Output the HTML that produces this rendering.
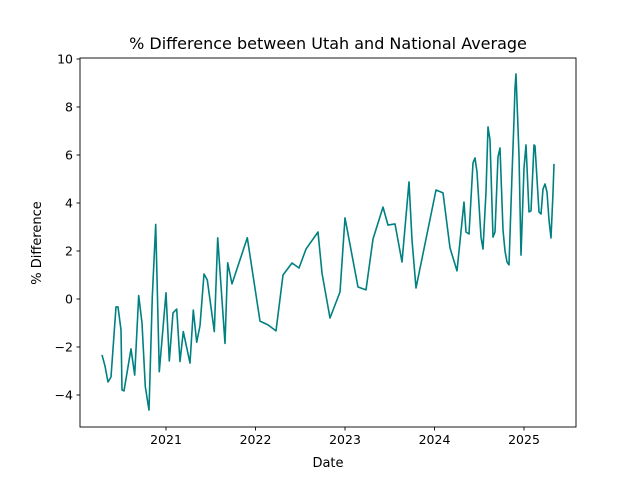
<!DOCTYPE html>
<html><head><meta charset="utf-8"><style>
body{margin:0;background:#fff;}
svg text{font-family:"DejaVu Sans","Liberation Sans",sans-serif;fill:#000;}
</style></head><body>
<svg id="chart" width="640" height="480" xmlns="http://www.w3.org/2000/svg">
<rect width="640" height="480" fill="#fff"/>
<text x="328" y="49" font-size="16" text-anchor="middle">% Difference between Utah and National Average</text>
<g id="axes"></g>
<text x="328" y="467" font-size="13" text-anchor="middle">Date</text>
<text x="41" y="243" font-size="13" text-anchor="middle" transform="rotate(-90 41 243)">% Difference</text>
</svg>
<script>
const dates=[2020.285,2020.318,2020.352,2020.385,2020.419,2020.441,2020.464,2020.497,2020.508,2020.531,2020.609,2020.65,2020.695,2020.732,2020.769,2020.81,2020.847,2020.885,2020.925,2021.0,2021.037,2021.078,2021.12,2021.156,2021.193,2021.268,2021.305,2021.343,2021.38,2021.425,2021.461,2021.54,2021.578,2021.659,2021.689,2021.737,2021.908,2022.05,2022.14,2022.229,2022.307,2022.408,2022.486,2022.564,2022.698,2022.743,2022.832,2022.944,2023.0,2023.145,2023.235,2023.313,2023.425,2023.48,2023.559,2023.637,2023.715,2023.749,2023.793,2024.017,2024.095,2024.173,2024.251,2024.33,2024.352,2024.385,2024.43,2024.453,2024.475,2024.52,2024.542,2024.575,2024.598,2024.62,2024.654,2024.676,2024.709,2024.732,2024.765,2024.788,2024.81,2024.832,2024.866,2024.888,2024.899,2024.911,2024.944,2024.966,2025.0,2025.022,2025.056,2025.078,2025.112,2025.123,2025.168,2025.19,2025.212,2025.235,2025.257,2025.279,2025.302,2025.324,2025.335];
const values=[-2.33,-2.79,-3.46,-3.25,-1.5,-0.33,-0.33,-1.29,-3.79,-3.83,-2.08,-3.17,0.14,-1.0,-3.65,-4.63,0.1,3.11,-3.03,0.26,-2.58,-0.58,-0.42,-2.61,-1.36,-2.67,-0.46,-1.8,-1.11,1.04,0.79,-1.36,2.55,-1.85,1.51,0.63,2.55,-0.92,-1.08,-1.33,1.0,1.5,1.29,2.08,2.79,1.08,-0.79,0.29,3.38,0.5,0.38,2.5,3.83,3.08,3.13,1.54,4.88,2.46,0.46,4.54,4.42,2.13,1.17,4.04,2.79,2.71,5.67,5.88,5.29,2.58,2.08,4.46,7.17,6.63,2.58,2.79,5.92,6.29,2.88,2.0,1.54,1.42,5.17,7.46,8.79,9.38,6.0,1.83,5.46,6.42,3.63,3.67,6.42,6.38,3.63,3.54,4.58,4.79,4.46,3.29,2.54,4.42,5.63];
const yTicks=[-4,-2,0,2,4,6,8,10];
const xTicks=[2021,2022,2023,2024,2025];
const NS="http://www.w3.org/2000/svg";
const L=80,R=576,T=58,B=427;
function xs(d){return 166+(d-2021)*89.5;}
function ys(v){return 299-v*24;}
const g=document.getElementById('axes');
function mk(tag,attrs){const e=document.createElementNS(NS,tag);for(const k in attrs)e.setAttribute(k,attrs[k]);g.appendChild(e);return e;}
let pts=dates.map((d,i)=>xs(d).toFixed(1)+','+ys(values[i]).toFixed(1)).join(' ');
const line=mk('polyline',{points:pts,fill:'none',stroke:'#008080','stroke-width':1.6,'stroke-linejoin':'round'});


const frame=mk('rect',{x:L,y:T,width:R-L,height:B-T,fill:'none',stroke:'#000','stroke-width':0.9});


yTicks.forEach(v=>{
  const y=ys(v);
  const t=mk('line',{x1:L-3.5,x2:L,y1:y,y2:y,stroke:'#000','stroke-width':0.9});
  
  
  const tx=mk('text',{x:L-7,y:y+4.5,'font-size':12.5,'text-anchor':'end'});
  tx.textContent=v<0?'\u2212'+Math.abs(v):String(v);
  
  
});
xTicks.forEach(d=>{
  const x=xs(d);
  const t=mk('line',{x1:x,x2:x,y1:B,y2:B+3.5,stroke:'#000','stroke-width':0.9});
  
  
  const tx=mk('text',{x:x,y:B+17,'font-size':12.5,'text-anchor':'middle'});
  tx.textContent=String(d);
  
  
});
</script>
</body></html>
